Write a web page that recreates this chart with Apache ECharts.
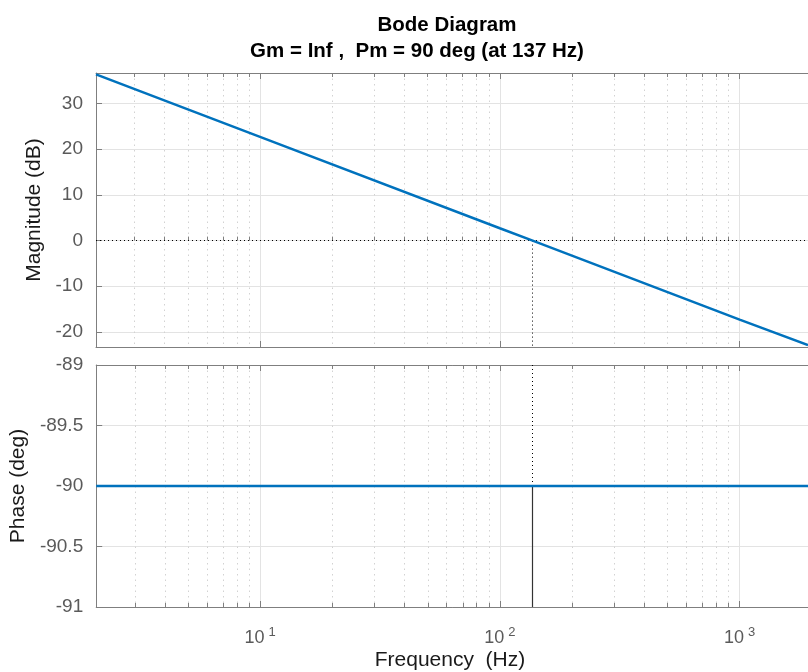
<!DOCTYPE html>
<html>
<head>
<meta charset="utf-8">
<script src="https://cdn.jsdelivr.net/npm/echarts@6/dist/echarts.min.js"></script>
<style>html,body{margin:0;padding:0;background:#fff}#c{width:808px;height:672px}</style>
</head>
<body>
<div id="c"></div>
<script>
// ---- data ----
var freqHz = [2.07, 10, 100, 137, 1000, 1928];
var magnitudeDb = [36.4, 22.7, 2.7, 0, -17.3, -22.9];
var phaseDeg = [-90, -90, -90, -90, -90, -90];
var crossoverHz = 137;
var freqRange = [2.07, 1928];
var magRange = [-23.3, 36.7];
var phaseRange = [-91, -89];
var magTicks = [-20, -10, 0, 10, 20, 30];
var majorFreqTicks = [10, 100, 1000];
var minorFreqTicks = [3, 4, 5, 6, 7, 8, 9, 20, 30, 40, 50, 60, 70, 80, 90, 200, 300, 400, 500, 600, 700, 800, 900];
var titleLine1 = 'Bode Diagram';
var titleLine2 = 'Gm = Inf ,  Pm = 90 deg (at 137 Hz)';

var FONT = '"Liberation Sans", Arial, Helvetica, sans-serif';
var AXC = '#7f7f7f';
var LBL = '#5a5a5a';

function supLabel(v) {
  var e = Math.round(Math.log10(v));
  if (Math.abs(Math.log10(v) - e) > 1e-6) return '';
  return '{b|10}{s|' + e + '}';
}

function xAxes(gridIndex, withLabels) {
  var common = { type: 'log', logBase: 10, gridIndex: gridIndex, min: freqRange[0], max: freqRange[1] };
  var majorBottom = Object.assign({}, common, {
    position: 'bottom',
    axisLine: { show: true, onZero: false, lineStyle: { color: AXC, width: 1 } },
    axisTick: { show: true, inside: true, length: 6, customValues: majorFreqTicks, lineStyle: { color: AXC } },
    axisLabel: withLabels ? {
      show: true, customValues: majorFreqTicks, formatter: supLabel, margin: 19,
      rich: {
        b: { fontFamily: FONT, fontSize: 18, color: LBL },
        s: { fontFamily: FONT, fontSize: 13, color: LBL, verticalAlign: 'top', padding: [0, 0, 11, 4] }
      }
    } : { show: false },
    splitLine: { show: true, lineStyle: { color: '#e3e3e3', width: 1 } },
    minorTick: { show: false }
  });
  var minorBottom = Object.assign({}, common, {
    position: 'bottom',
    axisLine: { show: false },
    axisTick: { show: true, inside: true, length: 4, customValues: minorFreqTicks, lineStyle: { color: AXC } },
    axisLabel: { show: false },
    splitLine: { show: true, lineStyle: { color: '#d2d2d2', width: 1, type: [1.5, 4] } }
  });
  var majorTop = Object.assign({}, common, {
    position: 'top',
    axisLine: { show: true, onZero: false, lineStyle: { color: AXC, width: 1 } },
    axisTick: { show: true, inside: true, length: 6, customValues: majorFreqTicks, lineStyle: { color: AXC } },
    axisLabel: { show: false },
    splitLine: { show: false }
  });
  var minorTop = Object.assign({}, common, {
    position: 'top',
    axisLine: { show: false },
    axisTick: { show: true, inside: true, length: 4, customValues: minorFreqTicks, lineStyle: { color: AXC } },
    axisLabel: { show: false },
    splitLine: { show: false }
  });
  return [majorBottom, minorBottom, majorTop, minorTop];
}

var xs = xAxes(0, false).concat(xAxes(1, true));

var chart = echarts.init(document.getElementById('c'), null, { renderer: 'canvas' });
chart.setOption({
  animation: false,
  backgroundColor: '#ffffff',
  title: [
    { text: titleLine1, left: 442, top: 10, textAlign: 'center',
      textStyle: { fontFamily: FONT, fontSize: 20.5, fontWeight: 'bold', color: '#000' } },
    { text: titleLine2, left: 412, top: 36, textAlign: 'center',
      textStyle: { fontFamily: FONT, fontSize: 20.5, fontWeight: 'bold', color: '#000' } },
    { text: 'Frequency  (Hz)', left: 445, top: 645, textAlign: 'center',
      textStyle: { fontFamily: FONT, fontSize: 21, fontWeight: 'normal', color: '#1a1a1a' } }
  ],
  grid: [
    { left: 96, top: 73, width: 712, height: 274, containLabel: false },
    { left: 96, top: 365, width: 712, height: 242, containLabel: false }
  ],
  xAxis: xs,
  yAxis: [
    { type: 'value', gridIndex: 0, min: magRange[0], max: magRange[1],
      name: 'Magnitude (dB)', nameLocation: 'middle', nameGap: 47, nameRotate: 90,
      nameTextStyle: { fontFamily: FONT, fontSize: 21, color: '#1a1a1a' },
      axisLine: { show: true, onZero: false, lineStyle: { color: AXC } },
      axisTick: { show: true, inside: true, length: 6, customValues: magTicks, lineStyle: { color: AXC } },
      axisLabel: { show: true, customValues: magTicks, fontFamily: FONT, fontSize: 19, color: LBL, margin: 13 },
      splitLine: { show: true, lineStyle: { color: '#e3e3e3' } } },
    { type: 'value', gridIndex: 1, min: phaseRange[0], max: phaseRange[1], interval: 0.5,
      name: 'Phase (deg)', nameLocation: 'middle', nameGap: 63, nameRotate: 90,
      nameTextStyle: { fontFamily: FONT, fontSize: 21, color: '#1a1a1a' },
      axisLine: { show: true, onZero: false, lineStyle: { color: AXC } },
      axisTick: { show: true, inside: true, length: 6, lineStyle: { color: AXC } },
      axisLabel: { show: true, fontFamily: FONT, fontSize: 19, color: LBL, margin: 13 },
      splitLine: { show: true, lineStyle: { color: '#e3e3e3' } } }
  ],
  series: [
    { type: 'line', xAxisIndex: 0, yAxisIndex: 0, showSymbol: false, symbol: 'none',
      data: freqHz.map(function (f, i) { return [f, magnitudeDb[i]]; }),
      lineStyle: { color: '#0072BD', width: 2.5 }, z: 5,
      markLine: { silent: true, symbol: 'none', label: { show: false }, z: 4,
        lineStyle: { color: '#000', width: 1, type: [1, 3] },
        data: [
          [{ coord: [freqRange[0], 0] }, { coord: [freqRange[1], 0] }],
          [{ coord: [crossoverHz, 0] }, { coord: [crossoverHz, magRange[0]] }]
        ] } },
    { type: 'line', xAxisIndex: 4, yAxisIndex: 1, showSymbol: false, symbol: 'none',
      data: freqHz.map(function (f, i) { return [f, phaseDeg[i]]; }),
      lineStyle: { color: '#0072BD', width: 2.5 }, z: 5,
      markLine: { silent: true, symbol: 'none', label: { show: false }, z: 4,
        data: [
          [{ coord: [crossoverHz, phaseRange[1]], lineStyle: { color: '#000', width: 1, type: [1, 3] } },
           { coord: [crossoverHz, -90] }],
          [{ coord: [crossoverHz, -90], lineStyle: { color: '#333', width: 1.2, type: 'solid' } },
           { coord: [crossoverHz, phaseRange[0]] }]
        ] } }
  ]
});
</script>
</body>
</html>
